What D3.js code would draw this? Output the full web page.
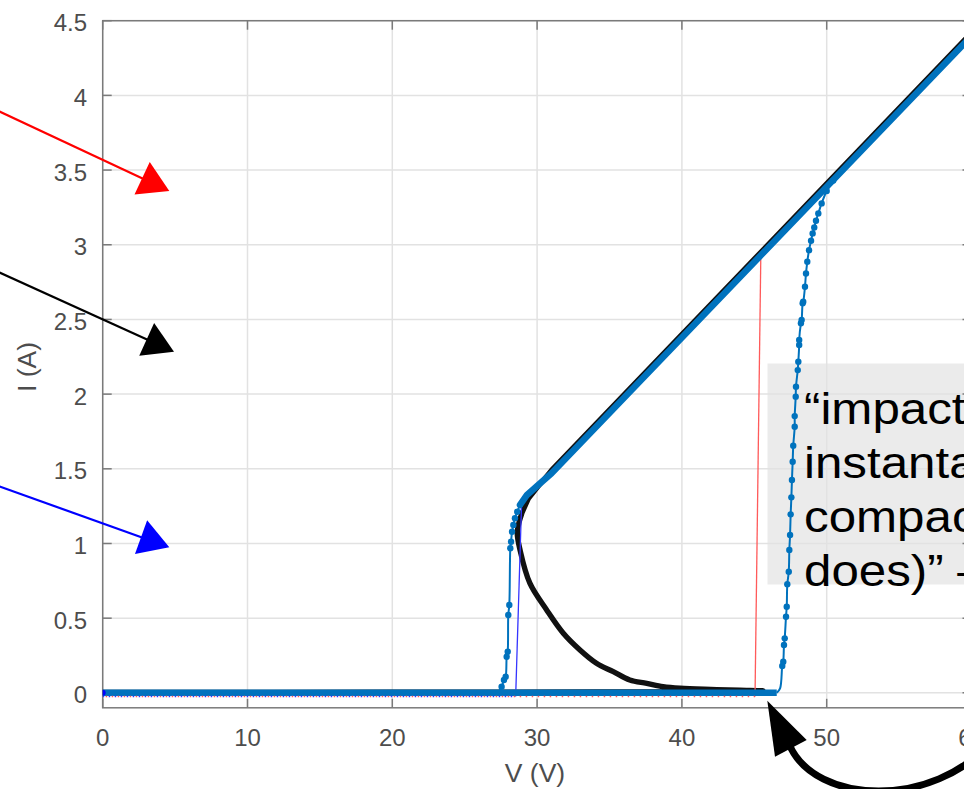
<!DOCTYPE html>
<html><head><meta charset="utf-8">
<script src="https://cdn.jsdelivr.net/npm/d3@7"></script>
<style>
html,body{margin:0;padding:0;background:#fff;overflow:hidden;}
svg{display:block;font-family:"Liberation Sans",Arial,Helvetica,sans-serif;}
</style></head>
<body>
<svg id="chart" width="964" height="789"></svg>
<script>
// ---------- data ----------
const xTicks = [0, 10, 20, 30, 40, 50, 60];
const xTickLabels = ["0", "10", "20", "30", "40", "50", "60"];
const yTicks = [0, 0.5, 1, 1.5, 2, 2.5, 3, 3.5, 4, 4.5];
const yTickLabels = ["0", "0.5", "1", "1.5", "2", "2.5", "3", "3.5", "4", "4.5"];
const xLabel = "V (V)";
const yLabel = "I (A)";

// black S-shaped (simulated) I-V curve: low + middle branch, then upper branch
const blackLowV = [0, 20, 40, 45.6, 44, 42, 39.87, 38.7, 37.57, 36.4, 35.26, 34.1, 32.96, 31.81, 30.66, 29.5, 28.82, 28.63, 28.75, 28.94];
const blackLowI = [0.003, 0.004, 0.008, 0.014, 0.018, 0.023, 0.031, 0.042, 0.064, 0.086, 0.142, 0.198, 0.287, 0.399, 0.555, 0.734, 0.957, 1.068, 1.14, 1.2];
const blackHighV = [28.94, 29.4, 30.1, 31, 62];
const blackHighI = [1.2, 1.3, 1.385, 1.492, 4.622];

// measured sweep (blue with markers)
const measLowV = [0, 10, 20, 30, 40, 46.55];
const measLowI = [0, 0, 0, 0, 0, 0];
const measJumpV = [46.55, 46.78, 46.93, 47.0, 47.05, 47.1, 47.19, 47.24, 47.28, 47.38, 47.42, 47.47, 47.51, 47.56, 47.6, 47.65, 47.69, 47.79, 47.79, 47.86, 47.88, 48.0, 48.04, 48.1, 48.1, 48.22, 48.27, 48.34, 48.38, 48.5, 48.57, 48.66, 48.78, 48.92, 49.03, 49.14, 49.26, 49.42, 49.65, 50.0, 50.45];
const measJumpI = [0.0, 0.03, 0.18, 0.209, 0.32, 0.365, 0.51, 0.577, 0.727, 0.811, 0.957, 1.057, 1.195, 1.309, 1.425, 1.547, 1.655, 1.782, 1.853, 1.983, 2.05, 2.161, 2.217, 2.329, 2.362, 2.474, 2.496, 2.608, 2.618, 2.719, 2.808, 2.886, 2.964, 3.027, 3.076, 3.116, 3.161, 3.21, 3.277, 3.36, 3.43];
const measHighV = [28.82, 29.3, 30.0, 31, 62];
const measHighI = [1.258, 1.325, 1.385, 1.47, 4.6];
const measDropV = [28.82, 28.63, 28.47, 28.36, 28.27, 28.2, 28.15, 28.08, 28.01, 27.97, 27.9, 27.83, 27.71, 27.55, 27.3];
const measDropI = [1.258, 1.213, 1.169, 1.124, 1.079, 1.012, 0.968, 0.588, 0.521, 0.276, 0.242, 0.108, 0.086, 0.041, 0.0];

// thin model traces
const redModelV = [0, 45.05, 45.45];
const redModelI = [-0.025, -0.025, 2.93];
const blueModelV = [0, 28.52, 28.93];
const blueModelI = [-0.025, -0.025, 1.27];

const noteLines = ["\u201Cimpact", "instanta", "compac", "does)\u201D \u2013"];

// ---------- layout ----------
const svg = d3.select("#chart");
const x = d3.scaleLinear().domain([0, 60]).range([102.7, 971.5]);
const y = d3.scaleLinear().domain([-0.1, 4.5]).range([707.8, 20.7]);
const X0 = x(0), X1 = x(60), Y0 = y(-0.1), Y1 = y(4.5);

svg.append("defs").append("clipPath").attr("id", "plotclip")
  .append("rect").attr("x", X0).attr("y", Y1).attr("width", X1 - X0).attr("height", Y0 - Y1);

// annotation box (behind grid)
svg.append("rect").attr("x", 767.5).attr("y", 363.5).attr("width", 260).attr("height", 221)
  .attr("fill", "#ebebeb");

// grid
const grid = svg.append("g").attr("stroke", "#e2e2e2").attr("stroke-width", 1.5);
xTicks.forEach(t => grid.append("line").attr("x1", x(t)).attr("x2", x(t)).attr("y1", Y1).attr("y2", Y0));
yTicks.forEach(t => grid.append("line").attr("x1", X0).attr("x2", X1).attr("y1", y(t)).attr("y2", y(t)));

// axes box + inward ticks
const ax = svg.append("g").attr("stroke", "#7a7a7a").attr("stroke-width", 1.5).attr("fill", "none");
ax.append("rect").attr("x", X0).attr("y", Y1).attr("width", X1 - X0).attr("height", Y0 - Y1);
xTicks.forEach(t => {
  ax.append("line").attr("x1", x(t)).attr("x2", x(t)).attr("y1", Y0).attr("y2", Y0 - 9);
  ax.append("line").attr("x1", x(t)).attr("x2", x(t)).attr("y1", Y1).attr("y2", Y1 + 9);
});
yTicks.forEach(t => {
  ax.append("line").attr("x1", X0).attr("x2", X0 + 9).attr("y1", y(t)).attr("y2", y(t));
  ax.append("line").attr("x1", X1).attr("x2", X1 - 9).attr("y1", y(t)).attr("y2", y(t));
});

const plot = svg.append("g").attr("clip-path", "url(#plotclip)");
const zip = (vs, is) => vs.map((v, k) => [v, is[k]]);
const lineL = d3.line().x(d => x(d[0])).y(d => y(d[1]));
const lineC = d3.line().x(d => x(d[0])).y(d => y(d[1])).curve(d3.curveCatmullRom.alpha(0.5));

// black curve
plot.append("path").attr("d", lineC(zip(blackLowV, blackLowI))).attr("fill", "none")
  .attr("stroke", "#111").attr("stroke-width", 5.4).attr("stroke-linejoin", "round");
plot.append("path").attr("d", lineL(zip(blackHighV, blackHighI))).attr("fill", "none")
  .attr("stroke", "#111").attr("stroke-width", 5).attr("stroke-linejoin", "round").attr("stroke-linecap", "round");

// thin models (vertical jumps)
plot.append("path").attr("d", lineL(zip(redModelV, redModelI).slice(1))).attr("fill", "none")
  .attr("stroke", "#ff5a5a").attr("stroke-width", 1.3);
plot.append("path").attr("d", lineL(zip(blueModelV, blueModelI).slice(1))).attr("fill", "none")
  .attr("stroke", "#3535ff").attr("stroke-width", 1.3);

// measured blue
const blue = "#0072BD";
plot.append("path").attr("d", lineL(zip(measLowV, measLowI))).attr("fill", "none")
  .attr("stroke", blue).attr("stroke-width", 6.5);
plot.append("path").attr("d", lineL(zip(measHighV, measHighI))).attr("fill", "none")
  .attr("stroke", blue).attr("stroke-width", 6.5).attr("stroke-linejoin", "round").attr("stroke-linecap", "round");
plot.append("path").attr("d", lineC(zip(measJumpV, measJumpI))).attr("fill", "none")
  .attr("stroke", blue).attr("stroke-width", 2);
plot.append("path").attr("d", lineC(zip(measDropV, measDropI))).attr("fill", "none")
  .attr("stroke", blue).attr("stroke-width", 2);
const markers = zip(measJumpV, measJumpI).filter(d => d[1] > 0.1)
  .concat(zip(measDropV, measDropI).filter(d => d[1] > 0.03 && d[1] < 1.25));
plot.selectAll("circle.m").data(markers).join("circle").attr("class", "m")
  .attr("cx", d => x(d[0])).attr("cy", d => y(d[1])).attr("r", 3.2).attr("fill", blue);

// dotted baselines of model traces
plot.append("path").attr("d", lineL(zip(redModelV, redModelI).slice(0, 2))).attr("fill", "none")
  .attr("stroke", "#ff5a5a").attr("stroke-width", 1.5).attr("stroke-dasharray", "1.5,4.5").attr("stroke-dashoffset", 3);
plot.append("path").attr("d", lineL(zip(blueModelV, blueModelI).slice(0, 2))).attr("fill", "none")
  .attr("stroke", "#3535ff").attr("stroke-width", 1.5).attr("stroke-dasharray", "1.5,4.5");
plot.append("circle").attr("cx", x(0)).attr("cy", y(0)).attr("r", 3).attr("fill", "#0000ff");

// note text
const note = svg.append("g");
noteLines.forEach((t, k) => {
  note.append("text").attr("transform", `translate(804,${424 + k * 54}) scale(1.12,1)`)
    .attr("font-size", 44).attr("fill", "#000").text(t);
});

// tick labels
const lab = svg.append("g").attr("fill", "#4d4d4d").attr("font-size", 24);
xTicks.forEach((t, k) => lab.append("text").attr("x", x(t)).attr("y", 745.5)
  .attr("text-anchor", "middle").text(xTickLabels[k]));
yTicks.forEach((t, k) => lab.append("text").attr("x", 87).attr("y", y(t) + 10.5)
  .attr("text-anchor", "end").text(yTickLabels[k]));
svg.append("text").attr("x", 535).attr("y", 782).attr("text-anchor", "middle")
  .attr("font-size", 26.5).attr("fill", "#4d4d4d").text(xLabel);
svg.append("text").attr("transform", "translate(36,367) rotate(-90)").attr("text-anchor", "middle")
  .attr("font-size", 26.5).attr("fill", "#4d4d4d").text(yLabel);

// straight arrows from the (cropped) legend
function arrow(sx, sy, tx, ty, col) {
  const dx = tx - sx, dy = ty - sy, L = Math.hypot(dx, dy);
  const ux = dx / L, uy = dy / L, hl = 30, hw = 18;
  const bx = tx - ux * hl, by = ty - uy * hl;
  svg.append("line").attr("x1", sx).attr("y1", sy).attr("x2", bx + ux * 4).attr("y2", by + uy * 4)
    .attr("stroke", col).attr("stroke-width", 2.2);
  svg.append("polygon").attr("points",
    `${tx},${ty} ${bx - uy * hw},${by + ux * hw} ${bx + uy * hw},${by - ux * hw}`).attr("fill", col);
}
arrow(-5, 109.5, 169.3, 191, "#ff0000");
arrow(-5, 270.5, 174, 351.7, "#000000");
arrow(-5, 484.8, 169.3, 547.3, "#0000ff");

// curved arrow at the bottom
svg.append("path").attr("d", "M 789 744 C 815 806, 935 808, 990 742").attr("fill", "none")
  .attr("stroke", "#000").attr("stroke-width", 7);
svg.append("polygon").attr("points", "767.3,700.7 775,756.7 806.7,740").attr("fill", "#000");
</script>
</body></html>
